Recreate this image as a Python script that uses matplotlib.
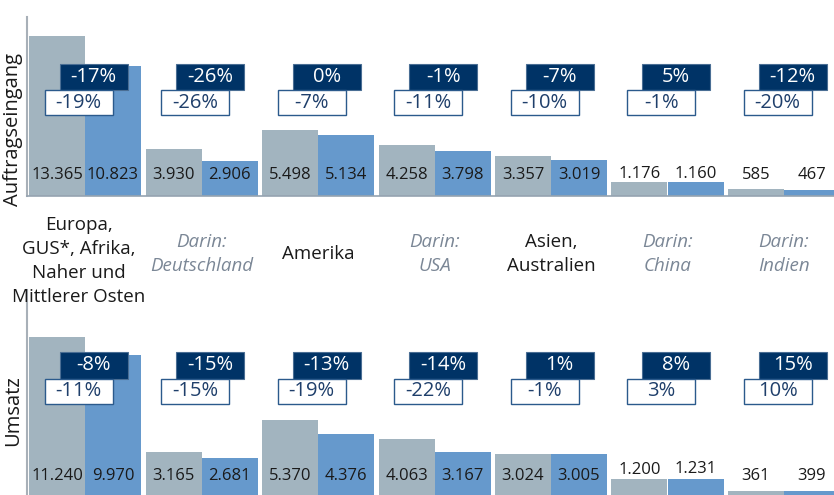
import matplotlib
matplotlib.use("Agg")
import matplotlib.pyplot as plt
from matplotlib.patches import Rectangle
import numpy as np

plt.rcParams['font.family'] = ['Open Sans', 'DejaVu Sans']

# DATA
regions = ["Europa,\nGUS*, Afrika,\nNaher und\nMittlerer Osten", "Darin:\nDeutschland",
           "Amerika", "Darin:\nUSA", "Asien,\nAustralien", "Darin:\nChina", "Darin:\nIndien"]
is_sub = [False, True, False, True, False, True, True]

orders_prev = [13365, 3930, 5498, 4258, 3357, 1176, 585]
orders_curr = [10823, 2906, 5134, 3798, 3019, 1160, 467]
orders_nominal = ["-17%", "-26%", "0%", "-1%", "-7%", "5%", "-12%"]
orders_adjusted = ["-19%", "-26%", "-7%", "-11%", "-10%", "-1%", "-20%"]

sales_prev = [11240, 3165, 5370, 4063, 3024, 1200, 361]
sales_curr = [9970, 2681, 4376, 3167, 3005, 1231, 399]
sales_nominal = ["-8%", "-15%", "-13%", "-14%", "1%", "8%", "15%"]
sales_adjusted = ["-11%", "-15%", "-19%", "-22%", "-1%", "3%", "10%"]

# STYLE
W, H = 834, 495
GREY = "#A2B4BF"
BLUE = "#6699CC"
NAVY = "#003366"
BOX_EDGE = "#2B5A8C"
SUB_COL = "#7B8796"
TXT = "#1A1A1A"
SPINE = "#A8B0B8"

fig = plt.figure(figsize=(W / 100, H / 100), dpi=100)


def fmt(v):
    return f"{v:,}".replace(",", ".")


def make_panel(top_px, base_px, prev, curr, nominal, adjusted, dark_px, white_px, scale):
    ax = fig.add_axes([27 / W, (H - base_px) / H, (W - 27) / W, (base_px - top_px) / H])
    ppx = 116.5  # pixels per group
    ax.set_xlim(-58 / ppx, (W - 85) / ppx)
    ax.set_ylim(0, (base_px - top_px) / scale)
    x = np.arange(len(prev))
    w = 56 / ppx
    xs_prev = x - w / 2
    xs_curr = x + w / 2
    ax.bar(xs_prev, prev, width=w, color=GREY, zorder=1)
    ax.bar(xs_curr, curr, width=w, color=BLUE, zorder=1)

    base_lbl = 21 / scale
    for xs, vals in ((xs_prev, prev), (xs_curr, curr)):
        for xp, v in zip(xs, vals):
            y = base_lbl if v > base_lbl + 400 else max(base_lbl, v + 700)
            ax.text(xp, y, fmt(v), ha="center", va="center",
                    fontsize=12, color=TXT, zorder=4)

    # percentage boxes, y in axes fraction
    h_ax = base_px - top_px
    d0, d1 = (base_px - dark_px[1]) / h_ax, (base_px - dark_px[0]) / h_ax
    w0, w1 = (base_px - white_px[1]) / h_ax, (base_px - white_px[0]) / h_ax
    bw = 68 / ppx
    tr = ax.get_xaxis_transform()
    for xi, nom, adj in zip(x, nominal, adjusted):
        cd = xi + 0.075
        cw = xi - 0.055
        ax.add_patch(Rectangle((cd - bw / 2, d0), bw, d1 - d0, transform=tr,
                               facecolor=NAVY, edgecolor="#4A6E94", lw=0.8, zorder=3))
        ax.text(cd, (d0 + d1) / 2, nom, transform=tr, ha="center", va="center",
                fontsize=14.5, color="white", zorder=5)
        ax.add_patch(Rectangle((cw - bw / 2, w0), bw, w1 - w0, transform=tr,
                               facecolor="white", edgecolor=BOX_EDGE, lw=1.0, zorder=3))
        ax.text(cw, (w0 + w1) / 2, adj, transform=tr, ha="center", va="center",
                fontsize=14.5, color="#1F3F6B", zorder=5)

    for s in ["top", "right"]:
        ax.spines[s].set_visible(False)
    ax.spines["left"].set_color(SPINE)
    ax.spines["left"].set_linewidth(1.5)
    ax.spines["bottom"].set_color("#95A3B0")
    ax.spines["bottom"].set_linewidth(1.2)
    ax.set_xticks([])
    ax.set_yticks([])
    return ax


make_panel(17, 196, orders_prev, orders_curr, orders_nominal, orders_adjusted,
           (64, 90), (90, 115), 160 / 13365)
make_panel(290, 496.5, sales_prev, sales_curr, sales_nominal, sales_adjusted,
           (352, 379), (379, 404), 159.5 / 11240)

fig.text(13 / W, 1 - 129 / H, "Auftragseingang", rotation=90, ha="center", va="center",
         fontsize=14.5, color=TXT)
fig.text(13 / W, 1 - 411 / H, "Umsatz", rotation=90, ha="center", va="center",
         fontsize=14.5, color=TXT)

# category labels
for i, (name, sub) in enumerate(zip(regions, is_sub)):
    cx = 85 + 116.5 * i
    cy = 261 if i == 0 else 254
    if i == 0:
        cx -= 6
    fig.text(cx / W, 1 - cy / H, name, ha="center", va="center", fontsize=13.5,
             color=SUB_COL if sub else TXT, style="italic" if sub else "normal",
             linespacing=1.45)

fig.savefig("out.png", dpi=100)
